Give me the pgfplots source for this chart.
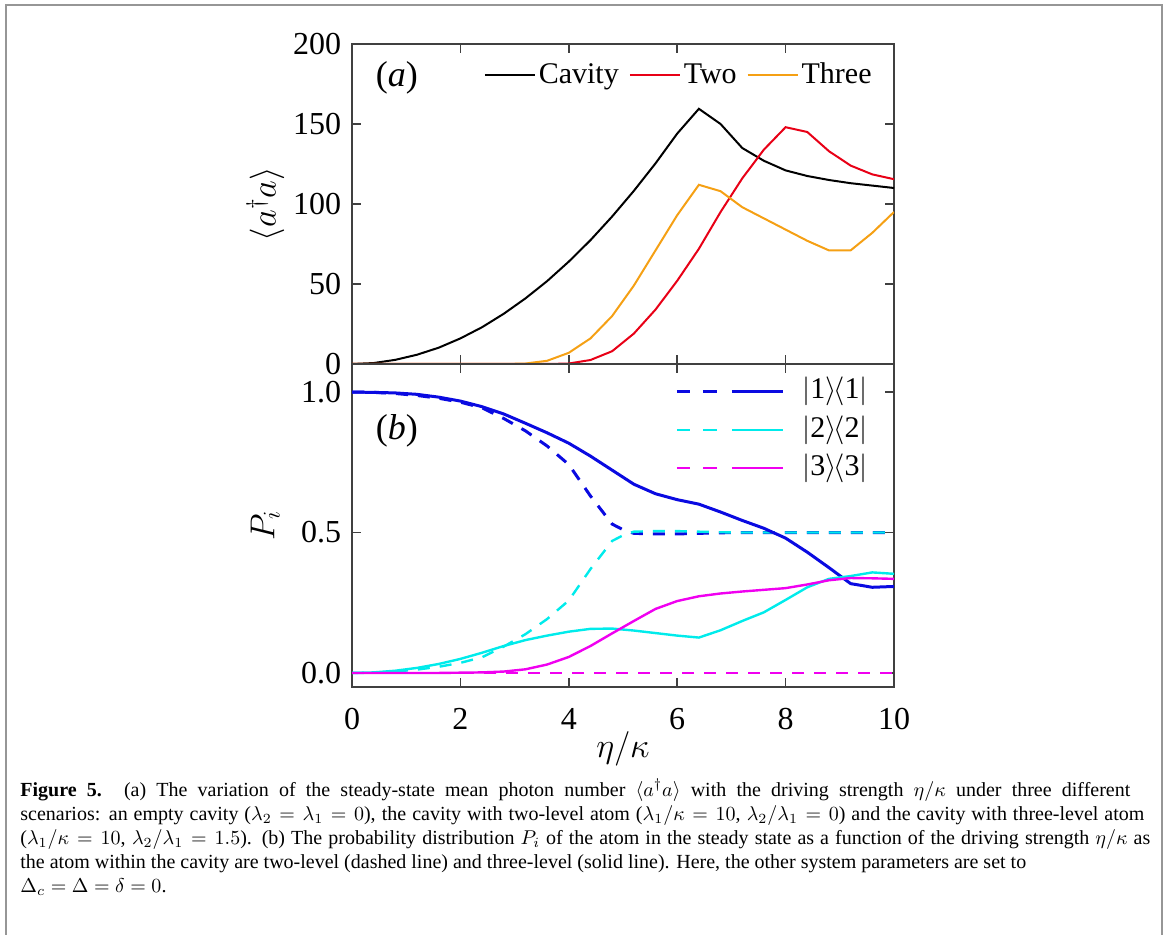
\documentclass[border=0pt]{standalone}
\usepackage{fontspec}
\setmainfont{Liberation Serif}
\usepackage{pgfplots}
\pgfplotsset{compat=1.18}

\definecolor{cblack}{RGB}{0,0,0}
\definecolor{cred}{RGB}{232,0,22}
\definecolor{corange}{RGB}{245,160,20}
\definecolor{cblue}{RGB}{10,10,225}
\definecolor{ccyan}{RGB}{0,235,235}
\definecolor{cmag}{RGB}{240,0,240}
\definecolor{frame}{RGB}{150,150,150}

\pgfplotsset{
  panel/.style={
    scale only axis, width=271pt,
    xmin=0, xmax=10, xtick={0,2,...,10},
    axis line style={line width=1pt, black!75},
    every tick/.style={line width=0.8pt, black!75},
    major tick length=4.5pt,
    /pgf/number format/assume math mode=true,
    tick label style={font=\fontsize{16}{16}\selectfont, inner sep=1pt},
    yticklabel style={xshift=-4.3pt},
    label style={font=\fontsize{18}{18}\selectfont},
    ylabel style={at={(axis description cs:-0.16,0.5)}, anchor=center},
  }
}

\begin{document}
\begin{tikzpicture}
\useasboundingbox (0,0) rectangle (584pt,-467.5pt);
\draw[frame, line width=1pt] (3pt,-480pt) -- (3pt,-2.5pt) -- (581pt,-2.5pt) -- (581pt,-480pt);

% (a) photon number
\begin{axis}[panel,
  at={(176pt,-182pt)}, anchor=south west, height=160pt,
  ymin=0, ymax=200, ytick={0,50,...,200},
  xticklabels={},
  ylabel={$\langle a^{\dagger}a\rangle$},
  legend columns=-1,
  legend image code/.code={\draw[#1] (0pt,0pt) -- (25pt,0pt);},
  legend style={draw=none, fill=none, at={(rel axis cs:1,1)}, anchor=east,
    xshift=-8pt, yshift=-15.5pt, font=\fontsize{15}{15}\selectfont,
    nodes={inner sep=0pt},
    /tikz/every odd column/.append style={column sep=1.5pt},
    /tikz/every even column/.append style={column sep=5pt}},
]
\addplot[cblack, line width=1pt] coordinates {
(0,0) (0.4,0.6) (0.8,2.6) (1.2,5.8) (1.6,10.2) (2.0,16) (2.4,23) (2.8,31.4)
(3.2,41) (3.6,51.8) (4.0,64) (4.4,77.4) (4.8,92.2) (5.2,108.2) (5.6,125.4)
(6.0,144) (6.4,159.5) (6.8,150) (7.2,135) (7.6,127) (8.0,121) (8.4,117.5)
(8.8,115) (9.2,113) (9.6,111.5) (10,110)
};
\addlegendentry{Cavity}
\addplot[cred, line width=1pt] coordinates {
(0,0) (2.0,0) (3.2,0) (3.6,0) (4.0,0.3) (4.4,2.5) (4.8,8) (5.2,19) (5.6,34)
(6.0,52) (6.4,72) (6.8,95) (7.2,116) (7.6,134) (8.0,148) (8.4,145)
(8.8,133) (9.2,124) (9.6,118.5) (10,115.5)
};
\addlegendentry{Two}
\addplot[corange, line width=1pt] coordinates {
(0,0) (2.0,0) (2.8,0) (3.2,0.3) (3.6,2) (4.0,7) (4.4,16) (4.8,30) (5.2,49)
(5.6,71) (6.0,93) (6.4,112) (6.8,108) (7.2,98) (7.6,91) (8.0,84) (8.4,77)
(8.8,71) (9.2,71) (9.6,82) (10,95)
};
\addlegendentry{Three}
\node[font=\fontsize{18}{18}\selectfont] at (axis cs:0.83,179) {(\textit{a})};
\end{axis}

% (b) probabilities
\begin{axis}[panel,
  at={(176pt,-182pt)}, anchor=north west, height=161.5pt,
  ymin=-0.05, ymax=1.1, ytick={0,0.5,1},
  yticklabel style={/pgf/number format/.cd, fixed, fixed zerofill, precision=1},
  xticklabel style={yshift=-9.3pt},
  xlabel={$\eta/\kappa$},
  xlabel style={at={(axis description cs:0.5,0)}, anchor=center, yshift=-31pt},
  ylabel={$P_i$},
  legend image code/.code={
    \draw[#1, dash pattern=on 6.75pt off 6.5pt] (0pt,0pt) -- (20.25pt,0pt);
    \draw[#1, solid] (27.5pt,0pt) -- (53pt,0pt);},
  legend style={draw=none, fill=none, at={(rel axis cs:1,1)}, anchor=east,
    xshift=-10pt, yshift=-33pt, font=\fontsize{15}{15}\selectfont,
    nodes={inner sep=0pt, text height=11pt, text depth=4pt},
    row sep=4pt,
    /tikz/every odd column/.append style={column sep=9pt}},
]
% two-level atom (dashed)
\addplot[cmag, line width=1.2pt, dash pattern=on 6pt off 5pt, forget plot] coordinates {
(0,0) (10,0)
};
\addplot[cblue, line width=1.5pt, dash pattern=on 6pt off 5pt, forget plot] coordinates {
(0,1.000) (0.4,0.999) (0.8,0.995) (1.2,0.988) (1.6,0.978) (2.0,0.964)
(2.4,0.944) (2.8,0.906) (3.2,0.862) (3.6,0.808) (4.0,0.742) (4.4,0.630)
(4.8,0.530) (5.0,0.510) (5.2,0.497) (5.6,0.495) (6.0,0.495) (6.4,0.497)
(6.8,0.499) (7.2,0.5) (8.0,0.5) (9.0,0.5) (10,0.5)
};
\addplot[ccyan, line width=1.2pt, dash pattern=on 6pt off 5pt, forget plot] coordinates {
(0,0) (0.4,0.001) (0.8,0.005) (1.2,0.012) (1.6,0.022) (2.0,0.036)
(2.4,0.056) (2.8,0.094) (3.2,0.138) (3.6,0.192) (4.0,0.258) (4.4,0.370)
(4.8,0.470) (5.0,0.490) (5.2,0.503) (5.6,0.505) (6.0,0.505) (6.4,0.503)
(6.8,0.501) (7.2,0.5) (8.0,0.5) (9.0,0.5) (10,0.5)
};
% three-level atom (solid)
\addplot[cblue, line width=1.5pt] coordinates {
(0,1.000) (0.4,0.999) (0.8,0.997) (1.2,0.992) (1.6,0.982) (2.0,0.968)
(2.4,0.948) (2.8,0.922) (3.2,0.889) (3.6,0.855) (4.0,0.818) (4.4,0.772)
(4.8,0.722) (5.2,0.672) (5.6,0.638) (6.0,0.617) (6.4,0.601) (6.8,0.573)
(7.2,0.543) (7.6,0.515) (8.0,0.480) (8.4,0.430) (8.8,0.375) (9.2,0.318)
(9.6,0.305) (10,0.308)
};
\addlegendentry{$|\mbox{1}\rangle\mkern-2mu\langle\mbox{1}|$}
\addplot[ccyan, line width=1.2pt] coordinates {
(0,0) (0.4,0.002) (0.8,0.008) (1.2,0.018) (1.6,0.032) (2.0,0.050)
(2.4,0.072) (2.8,0.096) (3.2,0.117) (3.6,0.133) (4.0,0.147) (4.4,0.157)
(4.8,0.158) (5.2,0.151) (5.6,0.142) (6.0,0.133) (6.4,0.126) (6.8,0.152)
(7.2,0.185) (7.6,0.216) (8.0,0.260) (8.4,0.305) (8.8,0.335) (9.2,0.345)
(9.6,0.358) (10,0.353)
};
\addlegendentry{$|\mbox{2}\rangle\mkern-2mu\langle\mbox{2}|$}
\addplot[cmag, line width=1.2pt] coordinates {
(0,0) (0.4,0) (0.8,0) (1.2,0) (1.6,0) (2.0,0.001) (2.4,0.002) (2.8,0.005)
(3.2,0.013) (3.6,0.030) (4.0,0.057) (4.4,0.096) (4.8,0.141) (5.2,0.185)
(5.6,0.228) (6.0,0.256) (6.4,0.273) (6.8,0.283) (7.2,0.290) (7.6,0.296)
(8.0,0.302) (8.4,0.315) (8.8,0.330) (9.2,0.338) (9.6,0.337) (10,0.335)
};
\addlegendentry{$|\mbox{3}\rangle\mkern-2mu\langle\mbox{3}|$}
\node[font=\fontsize{18}{18}\selectfont] at (axis cs:0.83,0.862) {(\textit{b})};
\end{axis}

% caption
\begin{scope}[every node/.style={anchor=base west, inner sep=0pt, font=\fontsize{10}{12}\selectfont}]
\node at (10pt,-398pt) {\makebox[555pt][s]{\textbf{Figure 5.} (a) The variation of the steady-state mean photon number $\langle a^{\dagger}a\rangle$ with the driving strength $\eta/\kappa$ under three different}};
\node at (10pt,-410pt) {\makebox[562pt][s]{scenarios: an empty cavity ($\lambda_2=\lambda_1=0$), the cavity with two-level atom ($\lambda_1/\kappa=10$, $\lambda_2/\lambda_1=0$) and the cavity with three-level atom}};
\node at (10pt,-422pt) {\makebox[565pt][s]{($\lambda_1/\kappa=10$, $\lambda_2/\lambda_1=1.5$). (b) The probability distribution $P_i$ of the atom in the steady state as a function of the driving strength $\eta/\kappa$ as}};
\node at (10pt,-434pt) {the atom within the cavity are two-level (dashed line) and three-level (solid line). Here, the other system parameters are set to};
\node at (10pt,-446pt) {$\Delta_c=\Delta=\delta=0$.};
\end{scope}
\end{tikzpicture}
\end{document}
